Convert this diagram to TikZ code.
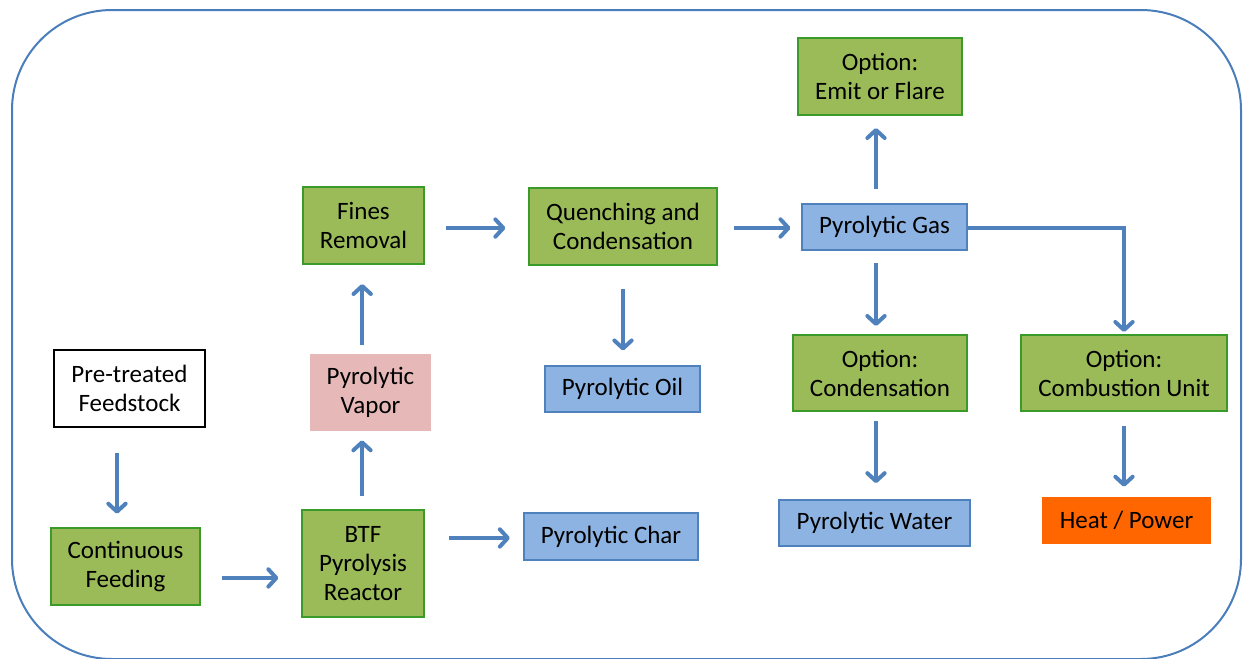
\documentclass[tikz,border=0pt]{standalone}
\usepackage{fontspec}
\setmainfont{Carlito}
\usetikzlibrary{arrows.meta,shadows}
\definecolor{frameblue}{HTML}{4A7EBB}
\definecolor{arrowblue}{HTML}{4F81BD}
\definecolor{gfill}{HTML}{9BBB59}
\definecolor{gline}{HTML}{3A9A2A}
\definecolor{bfill}{HTML}{8DB3E2}
\definecolor{bline}{HTML}{4F81BD}
\definecolor{pfill}{HTML}{E6B9B8}
\definecolor{ofill}{HTML}{FF6600}
\tikzset{
  box/.style={align=center,inner sep=0pt,font=\fontsize{18.75pt}{21.75pt}\selectfont,text=black},
  greenbox/.style={box,fill=gfill,draw=gline,line width=1.5pt},
  bluebox/.style={box,fill=bfill,draw=bline,line width=1.3pt},
  whitebox/.style={box,fill=white,draw=black,line width=1.3pt},
  pinkbox/.style={box,fill=pfill},
  orangebox/.style={box,fill=ofill},
  arr/.style={draw=arrowblue,line width=3pt,-{Straight Barb[length=6pt,width=13pt,round]}},
}
\begin{document}
\begin{tikzpicture}[x=0.75pt,y=-0.75pt]
\useasboundingbox (0,0) rectangle (1243,658);
\draw[frameblue,line width=1.5pt,rounded corners=75pt] (12,10) rectangle (1241,659);

\node[whitebox,minimum width=113.25pt,minimum height=57.75pt] (feed) at (129.5,388.5) {Pre-treated\\Feedstock};
\node[greenbox,minimum width=111.75pt,minimum height=57.75pt] (cont) at (125.5,566.5) {Continuous\\Feeding};
\node[greenbox,minimum width=91.5pt,minimum height=80.25pt] (react) at (363,563.5) {BTF\\Pyrolysis\\Reactor};
\node[pinkbox,minimum width=90.75pt,minimum height=57.75pt] (vapor) at (370.5,392.5) {Pyrolytic\\Vapor};
\node[greenbox,minimum width=90.75pt,minimum height=57.75pt] (fines) at (363.5,225.5) {Fines\\Removal};
\node[greenbox,minimum width=141pt,minimum height=57.75pt] (quench) at (623,226.5) {Quenching and\\Condensation};
\node[bluebox,minimum width=116.25pt,minimum height=34.5pt] (oil) at (622.5,389) {Pyrolytic Oil};
\node[bluebox,minimum width=130.5pt,minimum height=35.25pt] (char) at (611,536.5) {Pyrolytic Char};
\node[bluebox,minimum width=123.75pt,minimum height=34.5pt] (gas) at (884.5,227) {Pyrolytic Gas};
\node[greenbox,minimum width=123pt,minimum height=57.75pt] (emit) at (880,76.5) {Option:\\Emit or Flare};
\node[greenbox,minimum width=130.5pt,minimum height=57pt] (cond) at (880,373) {Option:\\Condensation};
\node[bluebox,minimum width=143.25pt,minimum height=34.5pt] (water) at (874.5,523) {Pyrolytic Water};
\node[greenbox,minimum width=154.5pt,minimum height=57pt] (comb) at (1124,373) {Option:\\Combustion Unit};
\node[orangebox,minimum width=126.75pt,minimum height=35.25pt] (heat) at (1126.5,520.5) {Heat / Power};

% connectors
\draw[arr,shorten <=18.75pt,shorten >=10pt] ([xshift=-9.4pt]feed.south) -- ([xshift=-9.4pt]feed.south |- cont.north);
\draw[arr,shorten <=15.75pt,shorten >=17pt] ([yshift=-8.6pt]cont.east) -- ([yshift=-8.6pt]cont.east -| react.west);
\draw[arr,shorten <=9.75pt,shorten >=6.75pt] ([xshift=-0.75pt]react.north) -- ([xshift=-0.75pt]react.north |- vapor.south);
\draw[arr,shorten <=6.75pt,shorten >=14.25pt] ([xshift=-1pt]fines.south |- vapor.north) -- ([xshift=-1pt]fines.south);
\draw[arr,shorten <=15.75pt,shorten >=17pt] ([yshift=-1.9pt]fines.east) -- ([yshift=-1.9pt]fines.east -| quench.west);
\draw[arr,shorten <=18pt,shorten >=10pt] ([yshift=-1.1pt]char.west -| react.east) -- ([yshift=-1.1pt]char.west);
\draw[arr,shorten <=17.25pt,shorten >=11pt] (quench.south) -- (quench.south |- oil.north);
\draw[arr,shorten <=12pt,shorten >=8pt] ([yshift=-1.1pt]quench.east) -- ([yshift=-1.1pt]quench.east -| gas.west);
\draw[arr,shorten <=10.5pt,shorten >=9pt] ([xshift=-3pt]emit.south |- gas.north) -- ([xshift=-3pt]emit.south);
\draw[arr,shorten <=9pt,shorten >=6pt] ([xshift=-3pt]cond.north |- gas.south) -- ([xshift=-3pt]cond.north);
\draw[arr,shorten <=6.75pt,shorten >=12pt] ([xshift=-3pt]cond.south) -- ([xshift=-3pt]cond.south |- water.north);
\draw[arr,shorten >=1.5pt] ([yshift=-0.75pt]gas.east) -| (comb.north);
\draw[arr,shorten <=10.5pt,shorten >=7.5pt] (comb.south) -- (comb.south |- heat.north);
\end{tikzpicture}
\end{document}
